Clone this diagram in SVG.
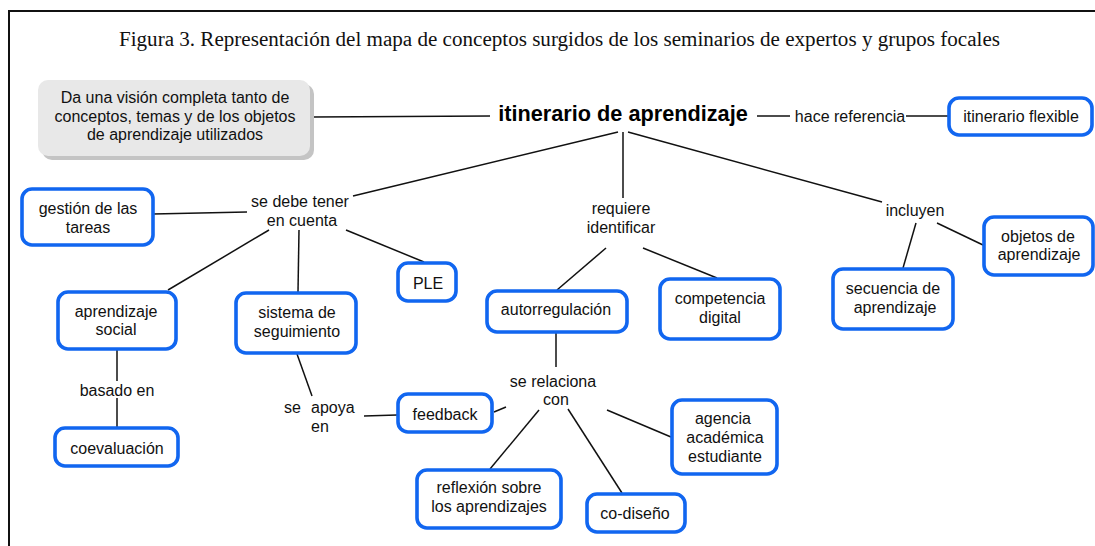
<svg xmlns="http://www.w3.org/2000/svg" width="1095" height="546" viewBox="0 0 1095 546">
<style>
.bg{fill:#ffffff}
.frame{stroke:#111;stroke-width:2;fill:none}
.title{font-family:"Liberation Serif",serif;font-size:20px;fill:#111}
.node rect.b{fill:#fff;stroke:#1166f0;stroke-width:3.6}
.t{font-family:"Liberation Sans",Arial,sans-serif;font-size:16px;fill:#111;text-anchor:middle}
.lbl{font-family:"Liberation Sans",Arial,sans-serif;font-size:16px;fill:#111;text-anchor:middle}
.main{font-family:"Liberation Sans",Arial,sans-serif;font-size:21.7px;font-weight:bold;fill:#000;text-anchor:middle}
#connectors line{stroke:#111;stroke-width:1.5}
</style>
<rect class="bg" x="0" y="0" width="1095" height="546"/>
<path class="frame" d="M9,546 V11 H1095"/>
<text class="title" x="119" y="46" textLength="881" lengthAdjust="spacingAndGlyphs">Figura 3. Representación del mapa de conceptos surgidos de los seminarios de expertos y grupos focales</text>

<g id="connectors">
<line x1="313" y1="117" x2="490" y2="116"/>
<line x1="757" y1="116" x2="790" y2="116"/>
<line x1="906" y1="116" x2="948" y2="116"/>
<line x1="618" y1="132" x2="353" y2="196"/>
<line x1="623" y1="132" x2="623" y2="198"/>
<line x1="628" y1="132" x2="882" y2="202"/>
<line x1="153" y1="214" x2="247" y2="212"/>
<line x1="269" y1="230" x2="168" y2="290"/>
<line x1="299" y1="230" x2="298" y2="292"/>
<line x1="346" y1="230" x2="424" y2="262"/>
<line x1="117" y1="349" x2="117" y2="381"/>
<line x1="117" y1="398" x2="117" y2="427"/>
<line x1="297" y1="354" x2="312" y2="396"/>
<line x1="364" y1="416" x2="397" y2="415"/>
<line x1="494" y1="412" x2="506" y2="407"/>
<line x1="606" y1="248" x2="557" y2="290"/>
<line x1="643" y1="248" x2="717" y2="278"/>
<line x1="556" y1="333" x2="556" y2="367"/>
<line x1="539" y1="410" x2="490" y2="469"/>
<line x1="568" y1="409" x2="622" y2="493"/>
<line x1="607" y1="410" x2="671" y2="437"/>
<line x1="916" y1="223" x2="903" y2="268"/>
<line x1="937" y1="223" x2="983" y2="245"/>
</g>

<g id="n-desc">
<rect x="42" y="84" width="272" height="76" rx="10" fill="#c4c4c4"/>
<rect x="38" y="80" width="272" height="76" rx="10" fill="#e8e8e8"/>
<text class="t" x="175" y="103">Da una visión completa tanto de</text>
<text class="t" x="175" y="122">conceptos, temas y de los objetos</text>
<text class="t" x="175" y="140">de aprendizaje utilizados</text>
</g>

<g id="n-itinerario">
<text class="main" x="623" y="121">itinerario de aprendizaje</text>
</g>

<g id="l-hace"><text class="lbl" x="850" y="122">hace referencia</text></g>

<g id="n-flexible" class="node">
<rect class="b" x="949" y="98" width="143" height="37" rx="10"/>
<text class="t" x="1021" y="122">itinerario flexible</text>
</g>

<g id="l-sedebe">
<text class="lbl" x="300" y="207">se debe tener</text>
<text class="lbl" x="302" y="226">en cuenta</text>
</g>

<g id="n-gestion" class="node">
<rect class="b" x="22" y="189" width="131" height="56" rx="10"/>
<text class="t" x="88" y="214">gestión de las</text>
<text class="t" x="88" y="233">tareas</text>
</g>

<g id="n-ple" class="node">
<rect class="b" x="398" y="263" width="58" height="38" rx="10"/>
<text class="t" x="428" y="289">PLE</text>
</g>

<g id="n-social" class="node">
<rect class="b" x="58" y="292" width="118" height="57" rx="10"/>
<text class="t" x="116" y="317">aprendizaje</text>
<text class="t" x="116" y="335">social</text>
</g>

<g id="l-basado"><text class="lbl" x="117" y="396">basado en</text></g>

<g id="n-coeval" class="node">
<rect class="b" x="55" y="428" width="123" height="38" rx="10"/>
<text class="t" x="117" y="454">coevaluación</text>
</g>

<g id="n-sistema" class="node">
<rect class="b" x="236" y="293" width="120" height="60" rx="10"/>
<text class="t" x="297" y="318">sistema de</text>
<text class="t" x="297" y="337">seguimiento</text>
</g>

<g id="l-apoya">
<text class="lbl" x="284" y="413" style="text-anchor:start">se</text>
<text class="lbl" x="311" y="413" style="text-anchor:start">apoya</text>
<text class="lbl" x="311" y="432" style="text-anchor:start">en</text>
</g>

<g id="n-feedback" class="node">
<rect class="b" x="398" y="394" width="94" height="38" rx="10"/>
<text class="t" x="445" y="420">feedback</text>
</g>

<g id="l-requiere">
<text class="lbl" x="621" y="214">requiere</text>
<text class="lbl" x="621" y="233">identificar</text>
</g>

<g id="n-autorreg" class="node">
<rect class="b" x="487" y="291" width="140" height="41" rx="10"/>
<text class="t" x="556" y="315">autorregulación</text>
</g>

<g id="n-competencia" class="node">
<rect class="b" x="660" y="279" width="120" height="60" rx="10"/>
<text class="t" x="720" y="304">competencia</text>
<text class="t" x="720" y="323">digital</text>
</g>

<g id="l-relaciona">
<text class="lbl" x="553" y="387">se relaciona</text>
<text class="lbl" x="556" y="405">con</text>
</g>

<g id="n-reflexion" class="node">
<rect class="b" x="417" y="470" width="144" height="58" rx="10"/>
<text class="t" x="489" y="493">reflexión sobre</text>
<text class="t" x="489" y="512">los aprendizajes</text>
</g>

<g id="n-codiseno" class="node">
<rect class="b" x="587" y="494" width="98" height="38" rx="10"/>
<text class="t" x="635" y="519">co-diseño</text>
</g>

<g id="n-agencia" class="node">
<rect class="b" x="672" y="400" width="105" height="74" rx="10"/>
<text class="t" x="723" y="424">agencia</text>
<text class="t" x="725" y="443">académica</text>
<text class="t" x="725" y="462">estudiante</text>
</g>

<g id="l-incluyen"><text class="lbl" x="915" y="216">incluyen</text></g>

<g id="n-secuencia" class="node">
<rect class="b" x="833" y="269" width="120" height="60" rx="10"/>
<text class="t" x="893" y="294">secuencia de</text>
<text class="t" x="895" y="313">aprendizaje</text>
</g>

<g id="n-objetos" class="node">
<rect class="b" x="984" y="217" width="109" height="58" rx="10"/>
<text class="t" x="1038" y="242">objetos de</text>
<text class="t" x="1039" y="260">aprendizaje</text>
</g>
</svg>
